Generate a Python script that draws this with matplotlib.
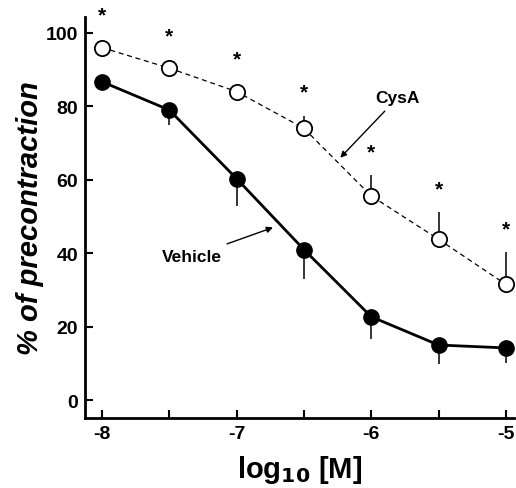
import matplotlib
matplotlib.use("Agg")
from matplotlib import pyplot as plt
import numpy as np

plt.rcParams['font.family'] = ['Liberation Sans', 'DejaVu Sans']
plt.rcParams['font.weight'] = 'bold'

# log10 concentration
conc = [-8, -7.5, -7, -6.5, -6, -5.5, -5]

# Vehicle (filled circles), error bars drawn downward
vehicle = [86.7, 79.0, 60.3, 41.0, 22.7, 15.0, 14.2]
vehicle_err = [0, 4.0, 7.5, 8.0, 6.0, 5.2, 4.2]

# CysA (open circles), error bars drawn upward
cysa = [96.0, 90.4, 84.0, 74.0, 55.6, 43.8, 31.5]
cysa_err = [0, 0, 0, 3.4, 5.6, 7.3, 8.8]

x_ticks = [-8, -7.5, -7, -6.5, -6, -5.5, -5]
x_labels = ['-8', '', '-7', '', '-6', '', '-5']
y_ticks = [0, 20, 40, 60, 80, 100]

fig = plt.figure(figsize=(5.16, 4.89), dpi=100)
ax = fig.add_axes([0.165, 0.143, 0.831, 0.82])

# error bars (one-sided, no caps)
ax.vlines(conc, np.array(vehicle) - np.array(vehicle_err), vehicle, color='black', lw=1.1, zorder=1)
ax.vlines(conc, cysa, np.array(cysa) + np.array(cysa_err), color='black', lw=1.1, zorder=1)

ax.plot(conc, vehicle, '-', color='black', lw=2.0, marker='o', markersize=11,
        markerfacecolor='black', markeredgecolor='black', zorder=3)
ax.plot(conc, cysa, '--', color='black', lw=0.9, dashes=(4, 3), marker='o', markersize=11,
        markerfacecolor='white', markeredgecolor='black', markeredgewidth=1.3, zorder=3)

# significance asterisks above CysA points (above error bar or marker)
for xv, yv, ev in zip(conc, cysa, cysa_err):
    top = max(yv + ev, yv + 2.5)
    ax.text(xv, top + 6.4, '*', ha='center', va='center', fontsize=15, fontweight='bold')

ax.annotate('CysA', xy=(-6.23, 66), xytext=(-5.97, 82.3),
            fontsize=12.5, fontweight='bold', ha='left', va='center',
            arrowprops=dict(arrowstyle='-|>', color='black', lw=1.0, mutation_scale=9,
                            shrinkA=3, shrinkB=0))
ax.annotate('Vehicle', xy=(-6.73, 47), xytext=(-7.11, 39.1),
            fontsize=12.5, fontweight='bold', ha='right', va='center',
            arrowprops=dict(arrowstyle='-|>', color='black', lw=1.0, mutation_scale=9,
                            shrinkA=5, shrinkB=0))

ax.set_xlim(-8.125, -4.94)
ax.set_ylim(-4.9, 104.3)
ax.set_xticks(x_ticks)
ax.set_xticklabels(x_labels)
ax.set_yticks(y_ticks)

for s in ['top', 'right']:
    ax.spines[s].set_visible(False)
for s in ['left', 'bottom']:
    ax.spines[s].set_linewidth(2.0)

ax.tick_params(direction='in', length=6, width=1.5, labelsize=14, pad=5)
for lbl in ax.get_xticklabels() + ax.get_yticklabels():
    lbl.set_fontweight('bold')

ax.set_ylabel('% of precontraction', fontsize=21, fontweight='bold', style='italic', labelpad=1)
ax.set_xlabel('log$_{\\mathbf{10}}$ [M]', fontsize=21, fontweight='bold', labelpad=8)

fig.savefig('out.png', dpi=100)
